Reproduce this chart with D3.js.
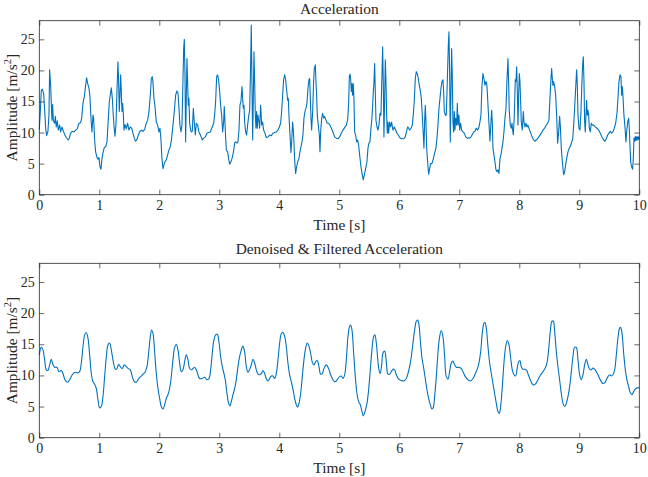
<!DOCTYPE html>
<html><head><meta charset="utf-8">
<script src="https://cdn.jsdelivr.net/npm/d3@7"></script>
<style>
body{margin:0;background:#fff}
svg{display:block}
text{font-family:"Liberation Serif","Times New Roman",serif;fill:#262626}
</style>
</head><body>
<svg id="c" width="648" height="477"></svg>
<script>
// ---------- DATA ----------
const rawTime=[0,0.017,0.033,0.05,0.072,0.094,0.106,0.122,0.144,0.161,0.172,0.189,0.2,0.211,0.222,0.233,0.256,0.267,0.283,0.3,0.317,0.339,0.356,0.378,0.394,0.422,0.45,0.483,0.5,0.522,0.55,0.578,0.606,0.633,0.661,0.689,0.706,0.728,0.75,0.772,0.789,0.806,0.828,0.844,0.861,0.878,0.894,0.906,0.922,0.939,0.961,0.978,0.994,1.011,1.028,1.044,1.061,1.083,1.106,1.128,1.144,1.167,1.183,1.2,1.217,1.233,1.244,1.261,1.278,1.294,1.311,1.322,1.333,1.344,1.356,1.367,1.378,1.389,1.4,1.411,1.428,1.45,1.472,1.494,1.517,1.539,1.561,1.583,1.606,1.628,1.65,1.672,1.7,1.728,1.756,1.783,1.806,1.828,1.85,1.867,1.883,1.894,1.911,1.928,1.95,1.972,1.994,2.011,2.028,2.044,2.061,2.078,2.094,2.117,2.139,2.161,2.183,2.206,2.228,2.25,2.272,2.294,2.311,2.328,2.344,2.361,2.378,2.389,2.406,2.417,2.428,2.439,2.45,2.461,2.472,2.483,2.494,2.506,2.522,2.533,2.55,2.567,2.583,2.6,2.617,2.639,2.661,2.689,2.717,2.739,2.767,2.794,2.822,2.85,2.883,2.906,2.922,2.939,2.956,2.972,2.989,3.006,3.022,3.039,3.056,3.072,3.083,3.094,3.106,3.117,3.139,3.156,3.172,3.194,3.211,3.233,3.256,3.272,3.294,3.311,3.328,3.344,3.361,3.378,3.389,3.4,3.411,3.422,3.439,3.456,3.472,3.489,3.506,3.522,3.533,3.544,3.556,3.567,3.578,3.589,3.6,3.611,3.622,3.633,3.644,3.661,3.672,3.689,3.706,3.722,3.739,3.761,3.783,3.811,3.839,3.867,3.894,3.922,3.95,3.978,4.0,4.022,4.039,4.056,4.072,4.089,4.106,4.122,4.139,4.15,4.161,4.178,4.194,4.206,4.222,4.239,4.256,4.272,4.289,4.306,4.328,4.344,4.361,4.378,4.394,4.411,4.428,4.444,4.461,4.478,4.494,4.506,4.517,4.528,4.539,4.556,4.572,4.583,4.6,4.611,4.622,4.633,4.65,4.667,4.678,4.689,4.706,4.722,4.739,4.756,4.778,4.8,4.822,4.844,4.867,4.894,4.922,4.95,4.978,5.006,5.033,5.061,5.089,5.117,5.139,5.156,5.167,5.178,5.189,5.2,5.211,5.222,5.233,5.244,5.256,5.272,5.289,5.306,5.322,5.339,5.361,5.383,5.4,5.417,5.439,5.461,5.478,5.494,5.511,5.528,5.544,5.561,5.578,5.589,5.6,5.611,5.628,5.644,5.661,5.678,5.694,5.711,5.722,5.733,5.744,5.756,5.767,5.778,5.789,5.8,5.811,5.822,5.839,5.856,5.872,5.894,5.917,5.939,5.961,5.983,6.006,6.039,6.072,6.1,6.122,6.139,6.156,6.172,6.194,6.217,6.233,6.25,6.267,6.283,6.3,6.317,6.333,6.35,6.367,6.383,6.4,6.411,6.422,6.433,6.444,6.456,6.472,6.489,6.506,6.522,6.544,6.567,6.589,6.611,6.628,6.644,6.661,6.678,6.694,6.711,6.728,6.739,6.75,6.767,6.783,6.8,6.817,6.828,6.839,6.85,6.861,6.872,6.883,6.894,6.906,6.917,6.928,6.939,6.956,6.967,6.978,6.994,7.006,7.022,7.039,7.061,7.083,7.106,7.133,7.161,7.189,7.217,7.239,7.261,7.283,7.306,7.328,7.344,7.361,7.378,7.394,7.411,7.428,7.444,7.456,7.467,7.483,7.5,7.511,7.528,7.539,7.55,7.561,7.578,7.594,7.611,7.628,7.644,7.661,7.678,7.694,7.711,7.728,7.744,7.761,7.778,7.794,7.811,7.822,7.833,7.85,7.867,7.878,7.889,7.9,7.917,7.933,7.944,7.956,7.967,7.978,7.989,8.0,8.011,8.022,8.033,8.05,8.067,8.078,8.094,8.111,8.128,8.144,8.161,8.183,8.206,8.228,8.256,8.283,8.311,8.339,8.367,8.394,8.422,8.45,8.472,8.494,8.511,8.528,8.539,8.55,8.561,8.572,8.589,8.606,8.622,8.639,8.656,8.672,8.683,8.7,8.717,8.739,8.756,8.772,8.789,8.811,8.833,8.856,8.872,8.889,8.906,8.922,8.939,8.956,8.967,8.978,8.994,9.011,9.028,9.044,9.056,9.067,9.078,9.089,9.1,9.111,9.122,9.133,9.144,9.156,9.167,9.183,9.2,9.217,9.239,9.267,9.294,9.322,9.35,9.378,9.406,9.428,9.45,9.472,9.494,9.517,9.539,9.561,9.583,9.606,9.628,9.644,9.661,9.678,9.694,9.706,9.717,9.728,9.744,9.761,9.778,9.789,9.806,9.822,9.833,9.844,9.856,9.872,9.889,9.9,9.911,9.922,9.933,9.944,9.956,9.967,9.978,9.989,9.996,10.0];
const rawAccel=[10.5,13.4,16.8,17.0,16.3,12.8,10.7,9.5,10.2,12.8,20.1,17.6,14.7,12.0,14.5,11.9,11.5,12.6,10.9,11.9,10.4,11.2,10.1,10.9,10.4,9.7,9.2,8.8,9.1,9.9,10.2,10.1,10.4,10.6,11.5,11.6,12.3,14.7,15.8,17.6,18.8,17.9,17.1,15.8,12.3,10.1,12.8,12.3,8.8,6.9,6.0,5.7,6.0,4.5,4.1,5.8,6.7,7.6,7.7,8.5,11.2,15.0,16.0,17.2,15.5,12.8,11.2,9.4,11.2,16.6,21.4,18.2,13.4,15.8,19.3,16.6,13.4,14.7,13.1,10.4,11.3,10.6,11.5,10.4,10.9,10.7,9.9,9.1,8.6,8.9,9.6,10.1,10.4,10.2,10.5,11.5,12.0,13.4,16.0,18.7,19.0,18.2,15.5,14.2,11.7,11.2,10.1,10.7,8.8,5.8,4.2,4.8,5.3,5.6,6.4,7.2,7.7,9.1,11.2,13.4,16.0,16.7,16.4,13.9,11.2,10.1,11.2,16.0,23.5,25.0,19.3,8.5,15.5,21.9,18.2,14.4,15.5,11.5,10.4,10.1,10.2,13.9,11.7,9.6,11.5,11.2,10.1,9.5,8.8,9.1,9.3,9.9,10.0,10.1,10.9,11.5,12.8,15.0,19.0,19.3,18.5,16.6,14.4,12.8,10.1,11.7,14.2,11.7,9.1,7.2,6.9,5.8,4.9,5.3,5.8,6.7,8.3,8.5,8.3,8.5,10.4,14.4,15.0,17.4,15.5,13.9,14.4,11.7,10.1,9.6,11.2,12.6,13.6,20.9,27.3,18.2,8.8,15.5,23.0,18.2,12.8,10.7,13.4,10.7,12.8,11.7,10.7,14.4,11.2,11.7,10.4,9.9,9.2,9.3,9.6,9.5,9.9,10.0,10.1,10.4,10.9,11.5,13.4,16.0,18.5,19.3,18.5,16.9,15.2,15.5,12.8,9.6,6.8,8.5,11.7,9.6,5.6,3.4,4.5,5.3,5.8,6.9,7.7,8.5,9.6,12.3,13.4,13.9,14.7,17.1,18.5,18.7,15.5,12.3,10.4,13.4,18.2,20.3,20.9,18.2,16.0,12.8,11.2,9.6,6.9,10.1,12.3,13.1,12.3,12.6,12.0,11.5,11.5,11.2,10.7,10.1,9.3,9.1,9.0,9.3,9.9,10.4,10.8,11.2,12.0,14.7,19.0,19.4,18.7,16.6,17.9,16.0,17.9,15.5,10.1,9.6,8.5,8.8,8.0,6.4,4.5,3.2,2.4,3.2,4.2,5.3,7.5,8.3,8.5,10.7,12.3,15.5,18.2,21.1,16.6,12.0,10.9,10.4,11.2,13.1,12.8,19.3,23.8,18.2,9.3,15.5,21.7,18.2,12.8,9.9,11.7,9.9,11.7,10.9,11.7,10.4,10.9,10.4,9.9,9.6,9.2,9.0,9.0,9.3,10.2,10.9,10.7,10.4,10.7,11.2,12.8,15.2,18.7,19.8,19.5,18.7,17.6,16.8,15.5,12.8,9.6,7.5,11.7,14.4,11.7,7.5,5.3,3.3,4.2,5.0,5.0,5.8,6.7,7.5,9.1,11.2,13.9,15.5,17.1,18.2,18.5,16.6,13.4,12.8,12.8,18.2,24.1,26.2,19.3,8.5,16.6,23.5,19.3,11.7,10.1,13.4,10.4,12.3,11.2,14.7,11.2,12.8,10.4,11.5,10.4,10.1,9.9,9.3,9.1,9.1,9.2,9.7,10.1,10.2,10.7,10.4,10.9,11.7,12.8,17.6,19.5,18.7,17.6,18.2,18.0,16.5,13.5,10.4,8.6,11.7,13.6,11.7,7.5,6.4,5.3,4.0,3.7,4.0,3.4,5.8,6.4,7.5,8.5,10.1,12.3,13.9,18.2,21.9,18.2,13.4,11.2,10.7,11.5,10.4,9.6,12.8,18.5,18.2,20.6,16.6,11.2,16.0,19.5,18.2,15.0,11.7,10.4,13.4,11.7,10.9,11.5,10.9,11.2,10.7,10.1,9.5,9.0,8.6,8.8,9.1,9.5,9.9,10.4,10.7,11.2,11.5,12.0,15.5,18.7,20.3,18.7,17.6,18.2,17.4,16.0,12.8,8.3,10.1,12.6,11.2,7.5,5.3,3.2,3.7,4.8,5.8,6.9,7.5,7.9,8.5,8.8,11.2,13.9,17.1,20.1,17.6,12.8,10.7,10.4,13.4,18.2,20.9,22.2,18.2,11.7,10.1,12.8,15.2,12.8,13.6,12.8,10.7,10.1,11.5,11.2,11.2,10.9,10.7,10.4,9.9,9.3,8.8,8.6,9.0,9.6,9.9,10.2,9.9,10.1,10.7,11.5,13.1,15.5,18.2,19.3,19.0,16.0,17.4,15.8,12.8,10.9,8.5,10.1,11.7,12.3,10.7,8.0,5.3,4.5,4.1,5.8,9.1,8.6,9.4,8.7,9.3,8.8,9.4,8.9,9.2,9.0,4.5];

const filtTime=[0,0.033,0.061,0.089,0.117,0.144,0.172,0.2,0.228,0.256,0.294,0.328,0.367,0.394,0.433,0.472,0.506,0.55,0.594,0.639,0.672,0.7,0.728,0.756,0.783,0.811,0.839,0.867,0.894,0.922,0.95,0.978,1.006,1.033,1.061,1.089,1.117,1.144,1.172,1.2,1.228,1.267,1.294,1.322,1.35,1.383,1.417,1.45,1.483,1.517,1.55,1.583,1.617,1.65,1.689,1.728,1.761,1.794,1.822,1.85,1.872,1.894,1.922,1.95,1.978,2.006,2.033,2.061,2.089,2.117,2.144,2.172,2.2,2.228,2.256,2.283,2.311,2.339,2.367,2.394,2.422,2.45,2.478,2.506,2.533,2.561,2.589,2.617,2.644,2.672,2.711,2.756,2.794,2.828,2.856,2.883,2.911,2.939,2.967,2.994,3.022,3.05,3.078,3.1,3.128,3.156,3.178,3.2,3.228,3.256,3.283,3.311,3.339,3.367,3.394,3.422,3.45,3.478,3.506,3.533,3.561,3.589,3.617,3.644,3.672,3.7,3.728,3.756,3.783,3.811,3.839,3.867,3.894,3.922,3.95,3.978,4.006,4.033,4.061,4.089,4.117,4.144,4.172,4.2,4.228,4.256,4.283,4.306,4.328,4.356,4.383,4.411,4.439,4.467,4.494,4.522,4.55,4.578,4.606,4.633,4.661,4.689,4.717,4.744,4.783,4.822,4.856,4.894,4.922,4.95,4.978,5.006,5.033,5.061,5.089,5.117,5.144,5.172,5.189,5.211,5.239,5.267,5.294,5.322,5.35,5.378,5.4,5.428,5.461,5.489,5.517,5.544,5.572,5.594,5.617,5.639,5.661,5.683,5.706,5.728,5.756,5.783,5.811,5.839,5.867,5.894,5.922,5.95,5.989,6.033,6.078,6.117,6.144,6.172,6.2,6.228,6.256,6.283,6.306,6.328,6.35,6.378,6.406,6.433,6.461,6.489,6.517,6.544,6.567,6.589,6.617,6.644,6.672,6.7,6.728,6.756,6.783,6.811,6.839,6.867,6.894,6.922,6.95,6.994,7.033,7.061,7.1,7.144,7.183,7.228,7.267,7.3,7.328,7.356,7.383,7.411,7.428,7.45,7.478,7.506,7.533,7.561,7.589,7.617,7.644,7.667,7.689,7.717,7.744,7.772,7.8,7.828,7.856,7.883,7.911,7.939,7.961,7.989,8.011,8.033,8.061,8.089,8.122,8.15,8.183,8.228,8.267,8.311,8.356,8.394,8.433,8.461,8.489,8.517,8.544,8.567,8.589,8.617,8.644,8.672,8.7,8.728,8.756,8.783,8.811,8.839,8.867,8.894,8.922,8.95,8.978,9.006,9.033,9.061,9.089,9.117,9.144,9.172,9.2,9.228,9.256,9.283,9.311,9.339,9.367,9.394,9.422,9.45,9.478,9.506,9.533,9.561,9.589,9.617,9.644,9.672,9.689,9.711,9.739,9.767,9.794,9.822,9.85,9.878,9.906,9.933,9.961,10.0];
const filtAccel=[13.3,14.5,14.1,12.5,10.9,10.8,11.7,12.6,11.7,11.3,11.3,10.6,10.8,10.3,9.2,8.9,9.3,10.1,10.5,10.4,10.6,12.0,14.6,16.5,16.9,16.0,13.3,10.3,9.0,8.6,7.9,6.1,4.8,5.0,6.6,9.8,13.0,14.9,15.2,14.1,12.5,11.0,11.1,11.8,11.4,11.1,11.7,11.4,11.1,10.9,9.8,9.0,8.9,9.4,9.8,10.2,10.5,11.4,13.6,16.2,17.3,16.8,13.8,10.3,7.9,6.3,5.0,4.6,5.3,6.3,6.9,7.9,9.8,12.5,14.5,15.0,14.1,12.0,10.6,10.9,12.2,13.3,12.5,11.1,10.9,11.1,11.3,10.9,10.1,9.5,9.5,9.7,9.3,9.5,10.9,13.6,15.7,16.5,16.6,15.4,13.0,11.4,10.3,9.3,7.1,5.5,5.1,5.8,6.9,7.9,9.3,11.4,13.0,14.1,14.7,13.8,11.4,10.5,11.0,11.7,12.6,12.0,10.9,10.2,10.1,10.3,10.8,10.3,9.5,9.1,9.5,9.9,9.9,9.5,10.3,12.5,15.2,16.7,16.9,16.3,14.6,12.0,10.1,9.0,7.8,6.3,5.3,4.9,5.5,7.1,9.8,12.5,14.4,15.2,14.7,13.6,12.1,11.7,12.2,12.4,11.4,10.2,10.3,11.1,11.7,11.1,10.1,9.3,9.0,9.1,9.5,9.8,9.9,9.5,10.1,12.5,16.2,17.9,18.1,17.3,13.6,9.8,7.1,5.8,5.3,4.2,3.5,4.2,5.5,7.7,10.9,14.1,16.2,16.5,15.2,12.8,10.9,10.3,11.7,13.6,13.9,12.2,10.2,10.2,10.6,11.0,10.9,10.1,9.4,9.2,9.1,9.5,10.3,11.4,13.0,15.2,17.3,18.7,18.9,18.1,15.7,12.8,11.2,9.5,7.7,6.3,5.3,4.6,4.9,6.6,9.8,13.6,16.2,17.2,16.2,13.0,9.8,9.4,10.6,12.0,12.3,11.7,11.3,11.3,11.1,10.6,9.8,9.3,9.1,9.5,10.3,11.0,12.0,13.8,16.8,18.4,18.5,17.6,14.6,12.0,10.3,8.7,7.1,5.5,4.2,3.9,5.0,8.2,12.0,14.6,15.6,14.9,12.8,10.9,10.1,9.9,10.9,12.2,12.4,11.4,11.0,11.0,10.8,10.1,9.3,8.5,8.6,9.3,10.1,10.6,11.2,12.0,14.1,17.1,18.7,18.7,17.1,13.8,11.4,9.3,7.1,5.5,5.0,5.5,6.6,8.2,10.6,13.0,14.5,14.5,12.5,10.1,9.3,10.1,11.7,12.6,11.7,11.0,10.9,11.2,11.0,10.6,10.1,9.5,9.0,8.7,8.8,9.3,9.8,10.1,9.9,10.1,10.9,13.3,16.0,17.6,17.7,16.8,13.6,10.9,9.3,8.2,7.2,6.9,7.4,7.8,8.0,8.0];

const xTicks=[0,1,2,3,4,5,6,7,8,9,10];
const yTicks=[0,5,10,15,20,25];
const titles=["Acceleration","Denoised & Filtered Acceleration"];
const xLabel="Time [s]";

// ---------- LAYOUT ----------
const svg=d3.select("#c");
const L=39.3,R=639.3;
const lineColor="#0072BD", axColor="#262626";
const tickFont=14, labelFont=15.4;
const x=d3.scaleLinear().domain([0,10]).range([L,R]);

const panels=[
  {title:titles[0],top:20.7,bottom:194.7,titleY:13.6,t:rawTime,v:rawAccel,curve:d3.curveLinear},
  {title:titles[1],top:263.3,bottom:437.7,titleY:254,t:filtTime,v:filtAccel,curve:d3.curveCatmullRom.alpha(0.5)}
];

panels.forEach(p=>{
  const y=d3.scaleLinear().domain([0,28]).range([p.bottom,p.top]);
  const g=svg.append("g");

  const pts=p.t.map((t,i)=>[t,p.v[i]]);
  g.append("path").datum(pts)
    .attr("fill","none").attr("stroke",lineColor).attr("stroke-width",1.1)
    .attr("stroke-linejoin","round")
    .attr("d",d3.line().x(d=>x(d[0])).y(d=>y(d[1])).curve(p.curve));

  const xb=g.append("g").attr("transform",`translate(0,${p.bottom})`)
    .call(d3.axisBottom(x).tickValues(xTicks).tickFormat(d3.format("d")).tickSizeInner(-5).tickSizeOuter(0).tickPadding(5.5));
  const xt=g.append("g").attr("transform",`translate(0,${p.top})`)
    .call(d3.axisTop(x).tickValues(xTicks).tickFormat("").tickSizeInner(-5).tickSizeOuter(0));
  const yl=g.append("g").attr("transform",`translate(${L},0)`)
    .call(d3.axisLeft(y).tickValues(yTicks).tickFormat(d3.format("d")).tickSizeInner(-5).tickSizeOuter(0).tickPadding(4.5));
  const yr=g.append("g").attr("transform",`translate(${R},0)`)
    .call(d3.axisRight(y).tickValues(yTicks).tickFormat("").tickSizeInner(-5).tickSizeOuter(0));
  [xb,xt,yl,yr].forEach(a=>{
    a.select(".domain").remove();
    a.selectAll("line").attr("stroke",axColor).attr("stroke-width",0.7);
    a.selectAll("text").attr("font-size",tickFont).attr("fill",axColor)
      .style("font-family",'"Liberation Serif","Times New Roman",serif');
  });
  g.append("rect").attr("x",L).attr("y",p.top).attr("width",R-L).attr("height",p.bottom-p.top)
    .attr("fill","none").attr("stroke",axColor).attr("stroke-width",0.8);

  g.append("text").attr("x",(L+R)/2).attr("y",p.titleY).attr("text-anchor","middle")
    .attr("font-size",labelFont).text(p.title);
  g.append("text").attr("x",(L+R)/2).attr("y",p.bottom+35).attr("text-anchor","middle")
    .attr("font-size",labelFont).text(xLabel);
  const yc=(p.top+p.bottom)/2;
  const tl=g.append("text").attr("transform",`translate(17,${yc}) rotate(-90)`)
    .attr("text-anchor","middle").attr("font-size",labelFont);
  tl.append("tspan").text("Amplitude [m/s");
  tl.append("tspan").attr("font-size",10.5).attr("dy",-6.5).text("2");
  tl.append("tspan").attr("dy",6.5).text("]");
});
</script>
</body></html>
